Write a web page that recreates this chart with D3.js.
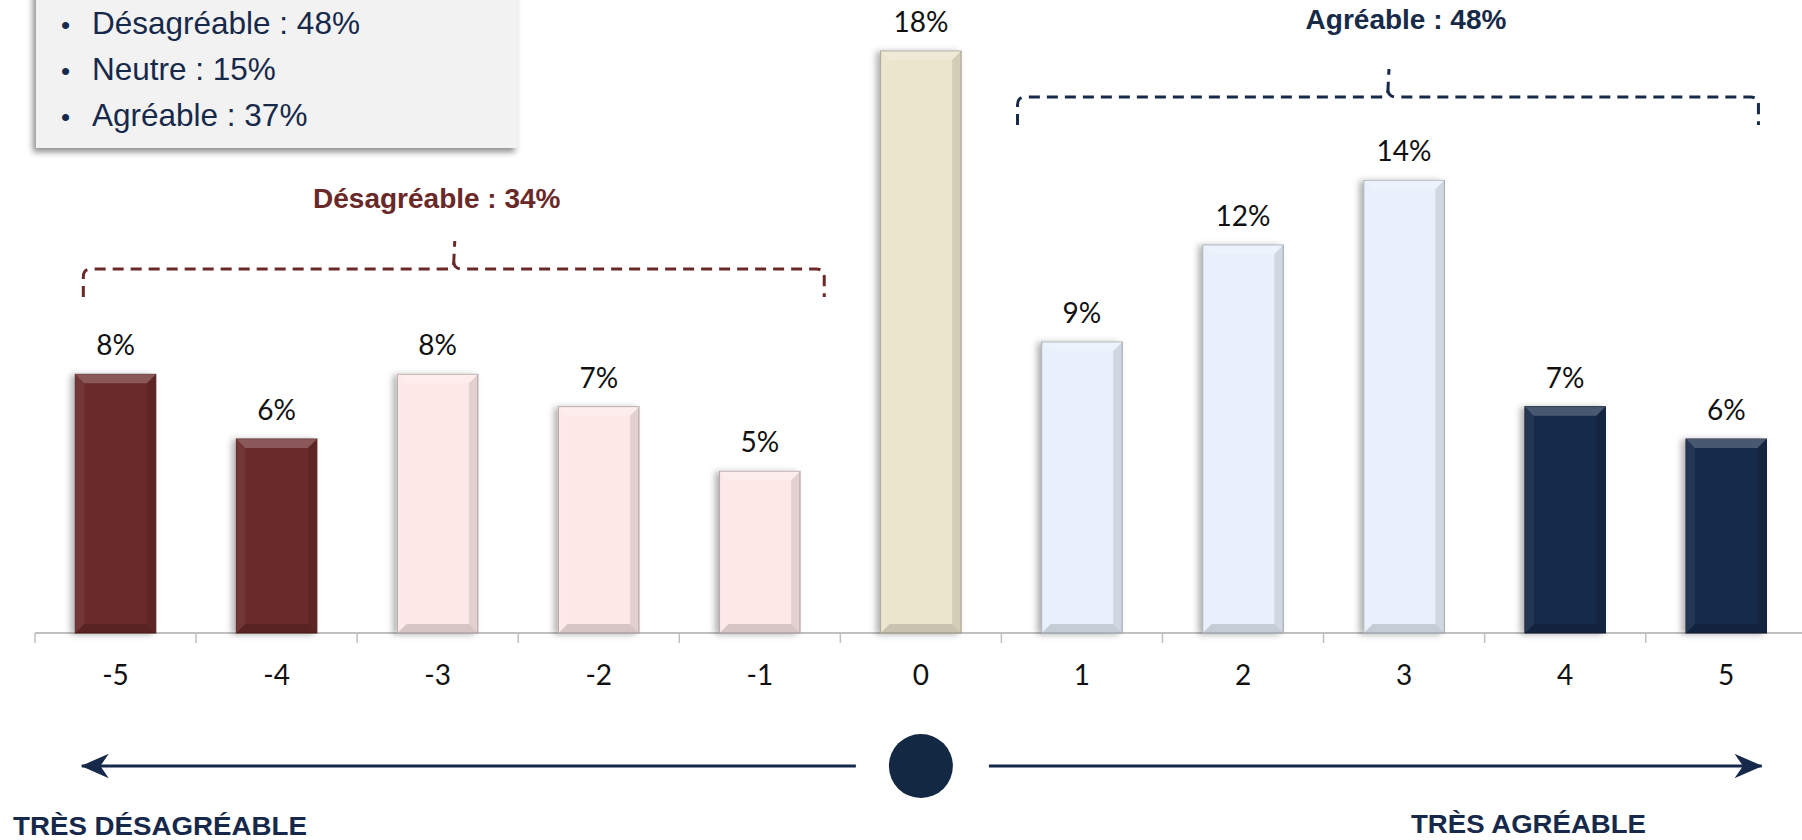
<!DOCTYPE html>
<html>
<head>
<meta charset="utf-8">
<script src="https://cdn.jsdelivr.net/npm/d3@7"></script>
<style>
  body { margin: 0; background: #fff; }
  svg { display: block; }
</style>
</head>
<body>
<div id="chart"></div>
<script>
"use strict";
// data
const categories = ["-5", "-4", "-3", "-2", "-1", "0", "1", "2", "3", "4", "5"];
const values = [8, 6, 8, 7, 5, 18, 9, 12, 14, 7, 6];
const groups = ["tresDes", "tresDes", "des", "des", "des", "neutre", "agr", "agr", "agr", "tresAgr", "tresAgr"];
const groupNames = ["tresDes", "des", "neutre", "agr", "tresAgr"];
const groupColors = ["#6a2929", "#fde8e8", "#ebe5cd", "#e7f0fb", "#172a48"];
const summaryLines = ["Désagréable : 48%", "Neutre : 15%", "Agréable : 37%"];
const bracketLabels = ["Désagréable : 34%", "Agréable : 48%"];
const bracketSpans = [[-5.2, -0.6], [0.6, 5.2]];
const bracketColors = ["#6a2929", "#172a48"];
const endLabels = ["TRÈS DÉSAGRÉABLE", "TRÈS AGRÉABLE"];

const width = 1802, height = 840;
const axisY = 633;
const step = 161.07;
const navy = "#17294a";

const svg = d3.select("#chart")
    .append("svg")
    .attr("width", width)
    .attr("height", height);

const defs = svg.append("defs");
defs.append("filter")
    .attr("id", "barShadow")
    .attr("x", "-30%").attr("y", "-10%").attr("width", "150%").attr("height", "120%")
    .append("feDropShadow")
    .attr("dx", -4).attr("dy", 1).attr("stdDeviation", 3)
    .attr("flood-color", "#000").attr("flood-opacity", 0.3);
defs.append("filter")
    .attr("id", "boxShadow")
    .attr("x", "-10%").attr("y", "-10%").attr("width", "120%").attr("height", "130%")
    .append("feDropShadow")
    .attr("dx", -3).attr("dy", 4).attr("stdDeviation", 3)
    .attr("flood-color", "#000").attr("flood-opacity", 0.45);
defs.append("marker")
    .attr("id", "arrowHead")
    .attr("viewBox", "0 0 30 30")
    .attr("markerUnits", "userSpaceOnUse")
    .attr("markerWidth", 28)
    .attr("markerHeight", 28)
    .attr("refX", 29)
    .attr("refY", 15)
    .attr("orient", "auto")
    .append("path")
    .attr("d", "M0,2 L30,15 L0,28 L9,15 Z")
    .attr("fill", navy);

const x = d3.scaleBand()
    .domain(categories)
    .range([35, 35 + step * categories.length])
    .paddingInner(0.5)
    .paddingOuter(0.25);
const xc = d3.scaleLinear()
    .domain([-5.5, 5.5])
    .range([35, 35 + step * categories.length]);
const y = d3.scaleLinear()
    .domain([0, 18])
    .range([axisY, 51]);
const color = d3.scaleOrdinal()
    .domain(groupNames)
    .range(groupColors);

// summary box
const box = svg.append("g");
box.append("rect")
    .attr("x", 36).attr("y", -10)
    .attr("width", 482).attr("height", 158)
    .attr("fill", "#f2f2f2")
    .attr("filter", "url(#boxShadow)");
const boxLine = box.selectAll(".box-line")
    .data(summaryLines)
    .enter()
    .append("g")
    .attr("class", "box-line")
    .attr("transform", (d, i) => `translate(0, ${34 + i * 46})`);
boxLine.append("text")
    .attr("x", 61)
    .text("•")
    .style("font", "26px 'Liberation Sans', Arial, sans-serif")
    .attr("fill", navy);
boxLine.append("text")
    .attr("x", 92)
    .text(d => d)
    .style("font", "31.5px 'Liberation Sans', Arial, sans-serif")
    .attr("fill", navy);

// axis
svg.append("line")
    .attr("x1", 35).attr("x2", width)
    .attr("y1", axisY).attr("y2", axisY)
    .attr("stroke", "#c0c0c0")
    .attr("stroke-width", 2);
svg.selectAll(".bound")
    .data(d3.range(categories.length + 1))
    .enter()
    .append("line")
    .attr("class", "bound")
    .attr("x1", i => xc(-5.5 + i)).attr("x2", i => xc(-5.5 + i))
    .attr("y1", axisY).attr("y2", axisY + 10)
    .attr("stroke", "#c0c0c0")
    .attr("stroke-width", 1.5);
const xAxis = svg.append("g")
    .attr("transform", `translate(0, ${axisY})`)
    .call(d3.axisBottom(x).tickSize(0).tickPadding(32));
xAxis.select(".domain").remove();
xAxis.selectAll("text")
    .style("font", "28px Lato, 'Open Sans', sans-serif")
    .attr("fill", "#111");

// bars
const bw = x.bandwidth();
const bev = 9;
const bar = svg.selectAll(".bar")
    .data(values.map((v, i) => ({ cat: categories[i], value: v, group: groups[i] })))
    .enter()
    .append("g")
    .attr("class", "bar")
    .attr("transform", d => `translate(${x(d.cat)}, ${y(d.value)})`);
bar.append("rect")
    .attr("width", bw)
    .attr("height", d => axisY - y(d.value))
    .attr("fill", d => color(d.group))
    .attr("stroke", d => d3.color(color(d.group)).darker(d.group === "tresDes" || d.group === "tresAgr" ? 0.6 : 0.9))
    .attr("stroke-width", 1)
    .attr("filter", "url(#barShadow)");
// bevel faces
const faces = [
    { pts: (w, h) => [[0, 0], [w, 0], [w - bev, bev], [bev, bev]], fill: "#fff", op: 0.22 },
    { pts: (w, h) => [[0, 0], [bev, bev], [bev, h - bev], [0, h]], fill: "#fff", op: 0.06 },
    { pts: (w, h) => [[w, 0], [w, h], [w - bev, h - bev], [w - bev, bev]], fill: "#000", op: 0.1 },
    { pts: (w, h) => [[0, h], [bev, h - bev], [w - bev, h - bev], [w, h]], fill: "#000", op: 0.15 }
];
faces.forEach(f => {
    bar.append("path")
        .attr("d", d => "M" + f.pts(bw, axisY - y(d.value)).join("L") + "Z")
        .attr("fill", f.fill)
        .attr("fill-opacity", f.op);
});
bar.append("text")
    .attr("x", bw / 2)
    .attr("y", -19)
    .attr("text-anchor", "middle")
    .text(d => `${d.value}%`)
    .style("font", "28px Lato, 'Open Sans', sans-serif")
    .attr("fill", "#111");

// brackets
const bracketY = [269, 97];
const bracketTitleY = [208, 29];
const bracketTitleShift = [-17, 18];
const r = 8;
bracketSpans.forEach((s, i) => {
    const x0 = xc(s[0]), x1 = xc(s[1]), xm = (x0 + x1) / 2, yl = bracketY[i];
    const path = `M${x0},${yl + 28} L${x0},${yl + r} Q${x0},${yl} ${x0 + r},${yl} L${xm - r},${yl} Q${xm},${yl} ${xm},${yl - r} L${xm + 1},${yl - 28}` +
        ` M${xm},${yl - r} Q${xm},${yl} ${xm + r},${yl} L${x1 - r},${yl} Q${x1},${yl} ${x1},${yl + r} L${x1},${yl + 28}`;
    svg.append("path")
        .attr("d", path)
        .attr("fill", "none")
        .attr("stroke", bracketColors[i])
        .attr("stroke-width", 3)
        .attr("stroke-dasharray", "11 7");
    svg.append("text")
        .attr("x", xm + bracketTitleShift[i])
        .attr("y", bracketTitleY[i])
        .attr("text-anchor", "middle")
        .text(bracketLabels[i])
        .style("font", "bold 28px 'Liberation Sans', Arial, sans-serif")
        .attr("fill", bracketColors[i]);
});

// bottom scale arrows
const arrowY = 766;
svg.append("line")
    .attr("x1", xc(0) - 65).attr("x2", xc(-5.21))
    .attr("y1", arrowY).attr("y2", arrowY)
    .attr("stroke", navy).attr("stroke-width", 3)
    .attr("marker-end", "url(#arrowHead)");
svg.append("line")
    .attr("x1", xc(0) + 68).attr("x2", xc(5.22))
    .attr("y1", arrowY).attr("y2", arrowY)
    .attr("stroke", navy).attr("stroke-width", 3)
    .attr("marker-end", "url(#arrowHead)");
svg.append("circle")
    .attr("cx", xc(0)).attr("cy", arrowY)
    .attr("r", 32)
    .attr("fill", "#132843");
svg.append("text")
    .attr("x", 13).attr("y", 835)
    .attr("textLength", 294)
    .attr("lengthAdjust", "spacingAndGlyphs")
    .text(endLabels[0])
    .style("font", "bold 26px 'Liberation Sans', Arial, sans-serif")
    .attr("fill", navy);
svg.append("text")
    .attr("x", 1411).attr("y", 833)
    .attr("textLength", 235)
    .attr("lengthAdjust", "spacingAndGlyphs")
    .text(endLabels[1])
    .style("font", "bold 26px 'Liberation Sans', Arial, sans-serif")
    .attr("fill", navy);
</script>
</body>
</html>
